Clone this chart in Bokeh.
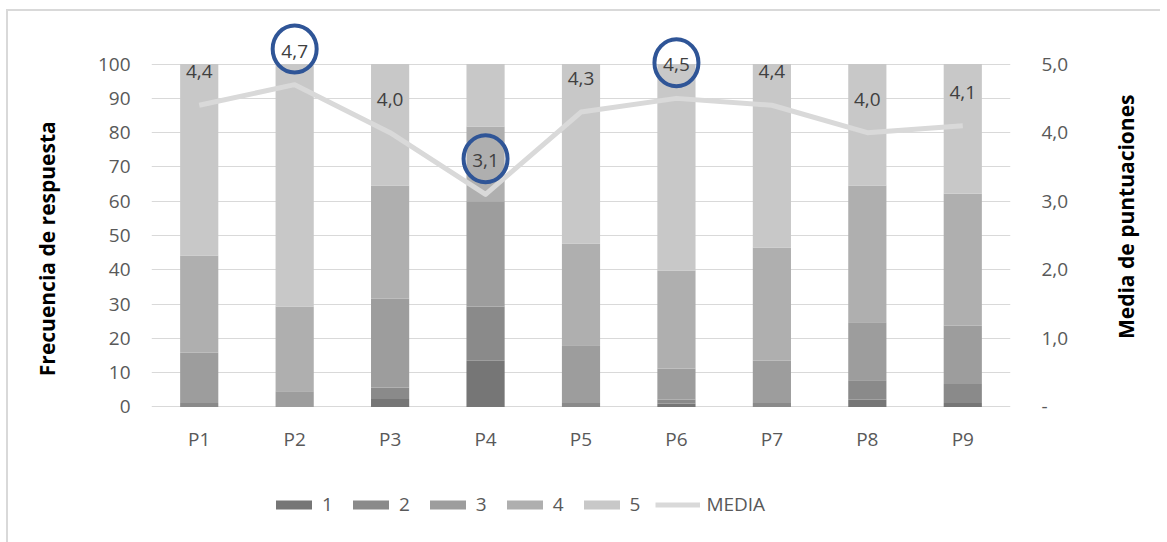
import math
from bokeh.plotting import figure
from bokeh.layouts import row
from bokeh.models import (Range1d, LinearAxis, FactorRange, CustomJSTickFormatter,
                          Legend, LegendItem, ColumnDataSource, FixedTicker)
from bokeh.embed import file_html
from bokeh.resources import INLINE
from bokeh.core.properties import value

# Questions and response frequency (%) per score
preguntas = ["P1", "P2", "P3", "P4", "P5", "P6", "P7", "P8", "P9"]
resp_1 = [0.0, 0.0, 2.3, 13.5, 0.0, 1.0, 0.0, 2.2, 1.2]
resp_2 = [1.2, 0.0, 3.4, 15.8, 1.2, 1.2, 1.2, 5.6, 5.5]
resp_3 = [14.6, 4.6, 25.9, 30.7, 16.8, 9.0, 12.3, 16.9, 17.0]
resp_4 = [28.4, 24.7, 33.0, 21.8, 29.7, 28.6, 33.0, 39.9, 38.5]
resp_5 = [55.8, 70.7, 35.4, 18.2, 52.3, 60.2, 53.5, 35.4, 37.8]

# Mean score per question
media = [4.4, 4.7, 4.0, 3.1, 4.3, 4.5, 4.4, 4.0, 4.1]
destacadas = ["P2", "P4", "P6"]

niveles = ["1", "2", "3", "4", "5"]
colores = ["#767676", "#8a8a8a", "#9d9d9d", "#afafaf", "#c8c8c8"]

FONT = "Open Sans"
Y_TOP = 113          # headroom above 100 for the mean labels
Y_BOT = -36.6        # room below 0 for category names and legend
NB = "\u00a0"
BORDER = "2px solid #d9d9d9"

src = ColumnDataSource(dict(x=preguntas, r1=resp_1, r2=resp_2, r3=resp_3,
                            r4=resp_4, r5=resp_5))

p = figure(x_range=FactorRange(*preguntas), y_range=Range1d(Y_BOT, Y_TOP),
           frame_width=857, frame_height=511,
           min_border_left=143, min_border_right=92,
           min_border_top=8, min_border_bottom=12,
           output_backend="svg", toolbar_location=None)
p.margin = (9, 0, 0, 6)
p.styles = {"border-top": BORDER, "border-left": BORDER}
p.extra_y_ranges = {"media": Range1d(Y_BOT / 20.0, Y_TOP / 20.0)}
p.outline_line_color = None
p.background_fill_color = "white"
p.border_fill_color = "white"
p.xaxis.visible = False

# Left axis: response frequency
ax_l = p.yaxis[0]
ax_l.ticker = FixedTicker(ticks=list(range(0, 101, 10)))
ax_l.axis_label = NB * 10 + "Frecuencia de respuesta"
ax_l.axis_label_text_font = FONT
ax_l.axis_label_text_font_size = "21px"
ax_l.axis_label_text_font_style = "bold"
ax_l.axis_label_text_color = "#000000"
ax_l.major_label_standoff = 15
ax_l.axis_label_standoff = 34
p.ygrid.grid_line_color = "#d9d9d9"
p.ygrid.grid_line_width = 1
p.xgrid.grid_line_color = None

# Right axis: mean score
ax_r = LinearAxis(y_range_name="media", ticker=FixedTicker(ticks=[0, 1, 2, 3, 4, 5]),
                  formatter=CustomJSTickFormatter(
                      code="return tick == 0 ? '-' : tick.toFixed(1).replace('.', ',');"))
ax_r.major_label_standoff = 25
p.add_layout(ax_r, "right")

for ax in (ax_l, ax_r):
    ax.axis_line_color = None
    ax.major_tick_line_color = None
    ax.minor_tick_line_color = None
    ax.major_label_text_font = FONT
    ax.major_label_text_font_size = "19px"
    ax.major_label_text_color = "#595959"

# Stacked bars
bars = p.vbar_stack(["r1", "r2", "r3", "r4", "r5"], x="x", width=0.4, source=src,
                    color=colores, line_color=None)

# Category names under the bars
p.text(preguntas, [-9.4] * len(preguntas), text=preguntas, text_align="center",
       text_baseline="middle", text_font=value(FONT), text_font_size="19px",
       text_color="#595959")

# Mean line
linea = p.line(preguntas, media, y_range_name="media", line_color="#d9d9d9",
               line_width=5, line_join="round")

# Mean labels above each point
lab_y = [m + 0.49 for m in media]
txt = [f"{m:.1f}".replace(".", ",") for m in media]
p.text(preguntas, lab_y, text=txt, y_range_name="media", text_align="center",
       text_baseline="middle", text_font=value(FONT), text_font_size="19px",
       text_color="#404040")

# Highlight rings
hx = [q for q in preguntas if q in destacadas]
hy = [lab_y[preguntas.index(q)] + 0.03 for q in hx]
p.ellipse(hx, hy, width=44, height=47, width_units="screen", height_units="screen",
          y_range_name="media", fill_color=None, line_color="#2f5597", line_width=4)

items = [LegendItem(label=n, renderers=[r]) for n, r in zip(niveles, bars)]
items.append(LegendItem(label="MEDIA", renderers=[linea]))
legend = Legend(items=items, orientation="horizontal", location=(120, 15),
                glyph_width=45, glyph_height=11, label_standoff=6, spacing=15,
                label_width=0, padding=0, margin=0, border_line_color=None,
                background_fill_alpha=0, label_text_font=FONT,
                label_text_font_size="19px", label_text_color="#595959")
p.add_layout(legend, "center")

# Narrow strip on the right holding the mean-axis title, reading bottom to top
t = figure(width=60, height=531, x_range=Range1d(0, 60), y_range=Range1d(0, 531),
           min_border_left=0, min_border_right=0, min_border_top=0,
           min_border_bottom=0, x_axis_type=None, y_axis_type=None,
           output_backend="svg", toolbar_location=None)
t.margin = (9, 0, 0, 0)
t.styles = {"border-top": BORDER}
t.outline_line_color = None
t.xgrid.grid_line_color = None
t.ygrid.grid_line_color = None
t.text([25], [326], text=["Media de puntuaciones"], angle=math.pi / 2,
       text_align="center", text_baseline="middle", text_font=value(FONT),
       text_font_size="21px", text_font_style="bold", text_color="#000000")

layout = row(p, t)
open("out.html", "w").write(file_html(layout, INLINE))
